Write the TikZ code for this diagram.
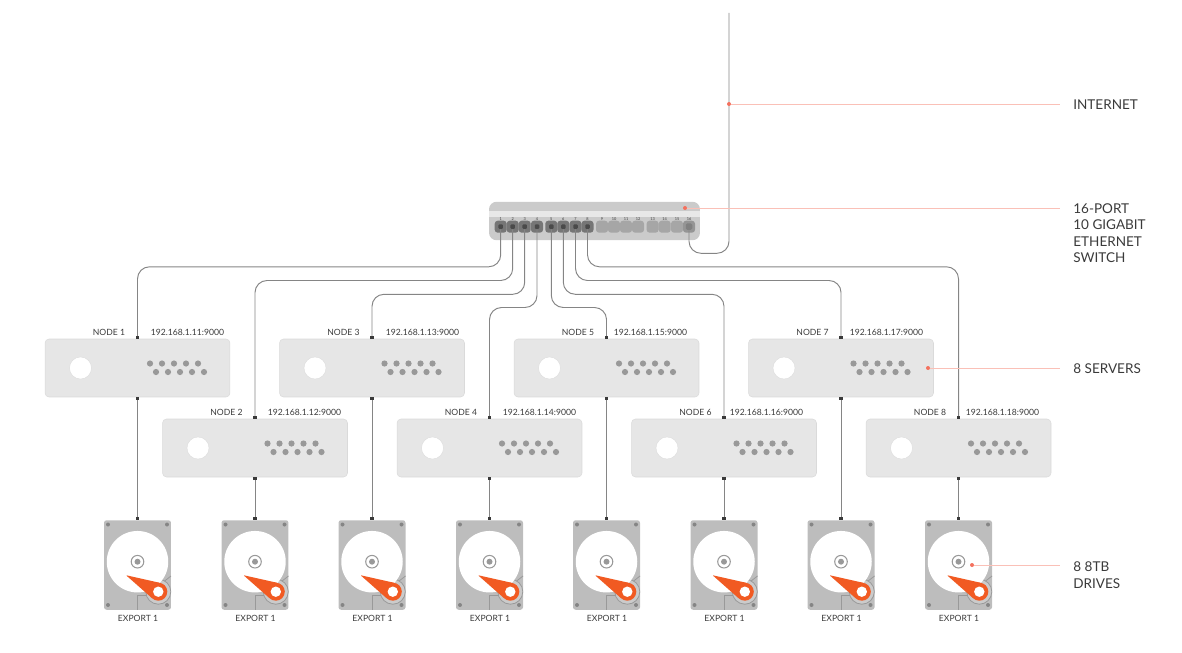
\documentclass[tikz,border=0pt]{standalone}
\usepackage{fontspec}
\setmainfont{Lato}
\usetikzlibrary{arrows.meta,positioning,calc}
\definecolor{textdark}{HTML}{3A3A3A}
\definecolor{wiregray}{HTML}{858585}
\definecolor{tipdark}{HTML}{3A3A3A}
\definecolor{switchgray}{HTML}{CBCBCB}
\definecolor{switchlight}{HTML}{E8E8E8}
\definecolor{portdark}{HTML}{767676}
\definecolor{portcore}{HTML}{4A4A4A}
\definecolor{portidle}{HTML}{A6A6A6}
\definecolor{portup}{HTML}{959595}
\definecolor{portupcore}{HTML}{808080}
\definecolor{servergray}{HTML}{E6E6E6}
\definecolor{serverline}{HTML}{DADADA}
\definecolor{dotgray}{HTML}{999999}
\definecolor{drivegray}{HTML}{BDBDBD}
\definecolor{screwgray}{HTML}{858585}
\definecolor{armorange}{HTML}{F15A22}
\definecolor{leaderpink}{HTML}{FAC0B7}
\definecolor{leaderred}{HTML}{F4715E}
\tikzset{
  >=Latex,
  switchbody/.style={
    rectangle, rounded corners=1.5mm, fill=switchgray, inner sep=0pt,
    minimum width=4.22cm, minimum height=0.77cm
  },
  switchband/.style={
    rectangle, fill=switchlight, inner sep=0pt,
    minimum width=4.22cm, minimum height=0.12cm
  },
  portbusy/.style={
    rectangle, rounded corners=0.6mm, fill=portdark, inner sep=0pt, minimum size=0.24cm
  },
  portidle/.style={
    rectangle, rounded corners=0.6mm, fill=portidle, inner sep=0pt, minimum size=0.24cm
  },
  portuplink/.style={
    rectangle, rounded corners=0.6mm, fill=portup, inner sep=0pt, minimum size=0.24cm
  },
  corebusy/.style={rectangle, rounded corners=0.2mm, fill=portcore, inner sep=0pt, minimum size=0.09cm},
  coreuplink/.style={rectangle, rounded corners=0.3mm, fill=portupcore, inner sep=0pt, minimum size=0.13cm},
  portnum/.style={font=\fontsize{2.2}{3}\selectfont, text=textdark, inner sep=0pt},
  serverbox/.style={
    rectangle, rounded corners=0.8mm, fill=servergray, draw=serverline, line width=0.3pt,
    inner sep=0pt, minimum width=3.7cm, minimum height=1.16cm
  },
  serverhole/.style={circle, fill=white, draw=serverline, line width=0.2pt, inner sep=0pt, minimum size=0.44cm},
  smalltext/.style={font=\fontsize{4.9}{6}\selectfont, text=textdark, inner sep=0pt},
  drivebox/.style={
    rectangle, rounded corners=0.5mm, fill=drivegray, inner sep=0pt,
    minimum width=1.34cm, minimum height=1.79cm
  },
  sidelabel/.style={
    font=\fontsize{7.7}{9.4}\selectfont, text=textdark, inner sep=0pt, align=left
  },
  wire/.style={draw=wiregray, line width=0.55pt, rounded corners=2.4mm},
  wireend/.style={-{Square[length=1.8pt,width=1.8pt,tipdark]}, wire},
  wireboth/.style={{Square[length=1.8pt,width=1.8pt,tipdark]}-{Square[length=1.8pt,width=1.8pt,tipdark]}, wire},
  leaderdot/.style={circle, fill=leaderred, inner sep=0pt, minimum size=0.08cm},
  leader/.style={draw=leaderpink, line width=0.55pt}
}
\newcommand{\swport}[4]{
  \node[#3] (port#1) at (#2,226.7) {};
  \node[#4] (core#1) at (port#1) {};
  \node[portnum] (num#1) at (#2,219.3) {#1};
}
\newcommand{\swidle}[2]{
  \node[portidle] (port#1) at (#2,226.7) {};
  \node[portnum] (num#1) at (#2,219.3) {#1};
}
% number, x, y, x of the address text
\newcommand{\serverunit}[4]{
  \node[serverbox] (srv#1) at (#2,#3) {};
  \node[smalltext] (addr#1) at (#4,#3-35.5) {192.168.1.1#1:9000};
  \begin{scope}[shift={(#2,#3)}]
    \node[serverhole] (hole#1) at (-57,0) {};
    \node[smalltext] (name#1) at (-28.5,-35.5) {NODE #1};
    \foreach \dx in {12.5,24.5,36.5,48.5,60.5} {
      \fill[dotgray] (\dx,-4.5) circle (3.1);
      \fill[dotgray] (\dx+6,4) circle (3.1);
    }
  \end{scope}
}
\newcommand{\driveunit}[2]{
  \node[drivebox] (drv#1) at (#2,565) {};
  \begin{scope}[shift={(#2,520)}]
    \foreach \sx in {-29.5,29.5} {
      \fill[screwgray] (\sx,4.5) circle (2);
      \fill[screwgray] (\sx,85) circle (2);
    }
    % head stack housing under the platter
    \draw[dotgray, line width=0.45pt] (33.5,56) -- (26.5,61.5);
    \draw[dotgray, line width=0.45pt] (9.5,75.5) -- (0,75.5) -- (0,89.5);
    \filldraw[fill=switchgray, draw=dotgray, line width=0.45pt] (20.8,71.7) circle (12.5);
    \node[circle, fill=white, inner sep=0pt, minimum size=1.23cm] (disc#1) at (0,41.7) {};
    \draw[dotgray, line width=0.6pt] (disc#1.center) circle (6.3);
    \fill[dotgray] (disc#1.center) circle (3);
    % actuator arm
    \fill[armorange, rounded corners=0.5pt] (-11.5,55.2) -- (22.7,62.9) -- (14.8,78.4) -- cycle;
    \fill[armorange] (20.8,71.7) circle (9);
    \fill[white] (20.8,71.7) circle (5.2);
    \node[smalltext] (exp#1) at (0.5,98) {EXPORT 1};
  \end{scope}
}

\begin{document}
\begin{tikzpicture}[x=0.02cm,y=-0.02cm]
\useasboundingbox (0,0) rectangle (1182,652);
% switch with its ports
\node[switchbody] (sw) at (594.5,221) {};
\node[switchband] (swband) at (594.5,214) {};
\swport{1}{500.7}{portbusy}{corebusy}
\swport{2}{512.7}{portbusy}{corebusy}
\swport{3}{524.7}{portbusy}{corebusy}
\swport{4}{537}{portbusy}{corebusy}
\swport{5}{551.3}{portbusy}{corebusy}
\swport{6}{563.3}{portbusy}{corebusy}
\swport{7}{575.5}{portbusy}{corebusy}
\swport{8}{587.5}{portbusy}{corebusy}
\swidle{9}{602}
\swidle{10}{614}
\swidle{11}{626}
\swidle{12}{638}
\swidle{13}{652.6}
\swidle{14}{664.7}
\swidle{15}{677}
\swport{16}{689}{portuplink}{coreuplink}
% servers, two staggered rows
\serverunit{1}{137.5}{368}{187.5}
\serverunit{2}{255}{448}{304.5}
\serverunit{3}{372}{368}{422.5}
\serverunit{4}{489.5}{448}{539.5}
\serverunit{5}{606.5}{368}{650.5}
\serverunit{6}{724}{448}{766.5}
\serverunit{7}{841}{368}{886.5}
\serverunit{8}{958.5}{448}{1002.5}
% drives
\driveunit{1}{137.5}
\driveunit{2}{255}
\driveunit{3}{372}
\driveunit{4}{489.5}
\driveunit{5}{606.5}
\driveunit{6}{724}
\driveunit{7}{841}
\driveunit{8}{958.5}
% uplink
\coordinate (net) at (729,13);
\draw[wire] (core16.south) -- ++(0,23) -| (net);
% switch to servers
\draw[wireend] (core1.south) -- ++(0,37.5) -| (srv1.north);
\draw[wireend] (core2.south) -- ++(0,51.2) -| (srv2.north);
\draw[wireend] (core3.south) -- ++(0,65) -| (srv3.north);
\draw[wireend] (core4.south) -- ++(0,78.2) -| (srv4.north);
\draw[wireend] (core5.south) -- ++(0,78.2) -| (srv5.north);
\draw[wireend] (core6.south) -- ++(0,65) -| (srv6.north);
\draw[wireend] (core7.south) -- ++(0,51.2) -| (srv7.north);
\draw[wireend] (core8.south) -- ++(0,37.5) -| (srv8.north);
% servers to drives
\draw[wireboth] (srv1.south) -- (drv1.north);
\draw[wireboth] (srv2.south) -- (drv2.north);
\draw[wireboth] (srv3.south) -- (drv3.north);
\draw[wireboth] (srv4.south) -- (drv4.north);
\draw[wireboth] (srv5.south) -- (drv5.north);
\draw[wireboth] (srv6.south) -- (drv6.north);
\draw[wireboth] (srv7.south) -- (drv7.north);
\draw[wireboth] (srv8.south) -- (drv8.north);
% side labels and their leaders
\node[sidelabel, anchor=west] (netlabel) at (1073,104.5) {INTERNET};
\node[sidelabel, anchor=north west] (swlabel) at (1073,203) {16-PORT\\10 GIGABIT\\ETHERNET\\SWITCH};
\node[sidelabel, anchor=west] (srvlabel) at (1073,369) {8 SERVERS};
\node[sidelabel, anchor=north west] (drvlabel) at (1073,561.5) {8 8TB\\DRIVES};
\node[leaderdot] (netdot) at (729,104) {};
\node[leaderdot] (swdot) at (685,208) {};
\node[leaderdot] (srvdot) at (928,368) {};
\node[leaderdot] (drvdot) at (972,565) {};
\coordinate (netend) at (1060,104);
\coordinate (swend) at (1060,208);
\coordinate (srvend) at (1060,368);
\coordinate (drvend) at (1060,565);
\draw[leader] (netdot) -- (netend);
\draw[leader] (swdot) -- (swend);
\draw[leader] (srvdot) -- (srvend);
\draw[leader] (drvdot) -- (drvend);
\end{tikzpicture}
\end{document}
